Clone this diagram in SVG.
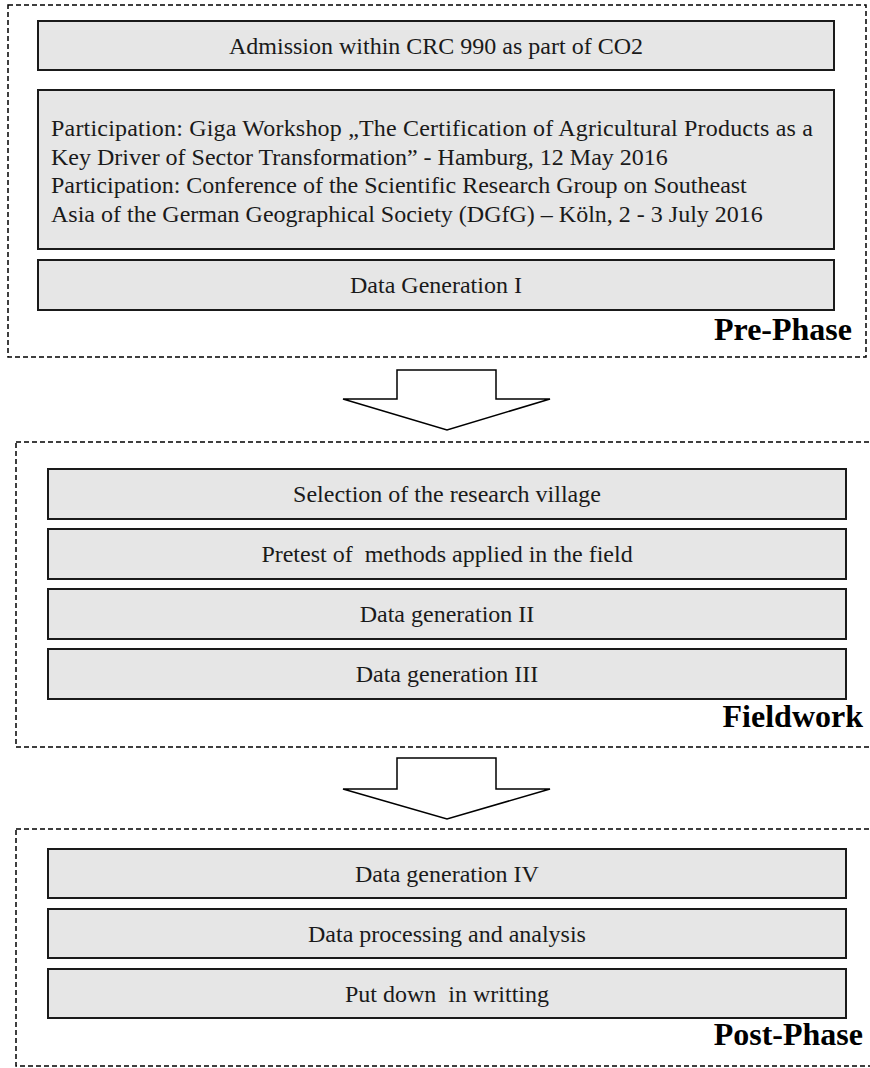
<svg xmlns="http://www.w3.org/2000/svg" width="870" height="1068" viewBox="0 0 870 1068">
<style>
.phase{fill:none;stroke:#000;stroke-width:1.5;stroke-dasharray:5,3}
.box{fill:#e6e6e6;stroke:#1a1a1a;stroke-width:2}
.t{font-family:"Liberation Serif",serif;font-size:24px;fill:#1a1a1a;text-anchor:middle}
.tl{font-family:"Liberation Serif",serif;font-size:24px;fill:#1a1a1a}
.ph{font-family:"Liberation Serif",serif;font-size:32px;font-weight:bold;fill:#000;text-anchor:end}
.arrow{fill:#fff;stroke:#000;stroke-width:1.5;stroke-linejoin:miter}
</style>
<rect width="870" height="1068" fill="#fff"/>
<g id="pre-phase">
<rect class="phase" x="8" y="5" width="858" height="352"/>
<text class="ph" x="852" y="340">Pre-Phase</text>
</g>
<g id="admission">
<rect class="box" x="38" y="21" width="796" height="49"/>
<text class="t" x="436" y="54">Admission within CRC 990 as part of CO2</text>
</g>
<g id="participation">
<rect class="box" x="38" y="90" width="796" height="159"/>
<text class="tl" x="51" y="136" textLength="762" lengthAdjust="spacing">Participation: Giga Workshop „The Certification of Agricultural Products as a</text>
<text class="tl" x="51" y="164.5">Key Driver of Sector Transformation” - Hamburg, 12 May 2016</text>
<text class="tl" x="51" y="193">Participation: Conference of the Scientific Research Group on Southeast</text>
<text class="tl" x="51" y="221.5">Asia of the German Geographical Society (DGfG) – Köln, 2 - 3 July 2016</text>
</g>
<g id="data-gen-1">
<rect class="box" x="38" y="260" width="796" height="50"/>
<text class="t" x="436" y="293">Data Generation I</text>
</g>
<g id="fieldwork">
<rect class="phase" x="16" y="442" width="870" height="305"/>
<text class="ph" x="863" y="727">Fieldwork</text>
</g>
<g id="selection">
<rect class="box" x="48" y="469" width="798" height="50"/>
<text class="t" x="447" y="502">Selection of the research village</text>
</g>
<g id="pretest">
<rect class="box" x="48" y="529" width="798" height="50"/>
<text class="t" x="447" y="562" xml:space="preserve">Pretest of  methods applied in the field</text>
</g>
<g id="data-gen-2">
<rect class="box" x="48" y="589" width="798" height="50"/>
<text class="t" x="447" y="622">Data generation II</text>
</g>
<g id="data-gen-3">
<rect class="box" x="48" y="649" width="798" height="50"/>
<text class="t" x="447" y="682">Data generation III</text>
</g>
<g id="post-phase">
<rect class="phase" x="16" y="829" width="870" height="237"/>
<text class="ph" x="863" y="1045">Post-Phase</text>
</g>
<g id="data-gen-4">
<rect class="box" x="48" y="849" width="798" height="49"/>
<text class="t" x="447" y="882">Data generation IV</text>
</g>
<g id="processing">
<rect class="box" x="48" y="909" width="798" height="49"/>
<text class="t" x="447" y="942">Data processing and analysis</text>
</g>
<g id="writing">
<rect class="box" x="48" y="969" width="798" height="49"/>
<text class="t" x="447" y="1002" xml:space="preserve">Put down  in writting</text>
</g>
<g id="connectors">
<path class="arrow" d="M397,370 H496 V399 H550 L447,430 L343,399 H397 Z"/>
<path class="arrow" d="M397,758 H496 V789 H550 L447,819 L343,789 H397 Z"/>
</g>
</svg>
